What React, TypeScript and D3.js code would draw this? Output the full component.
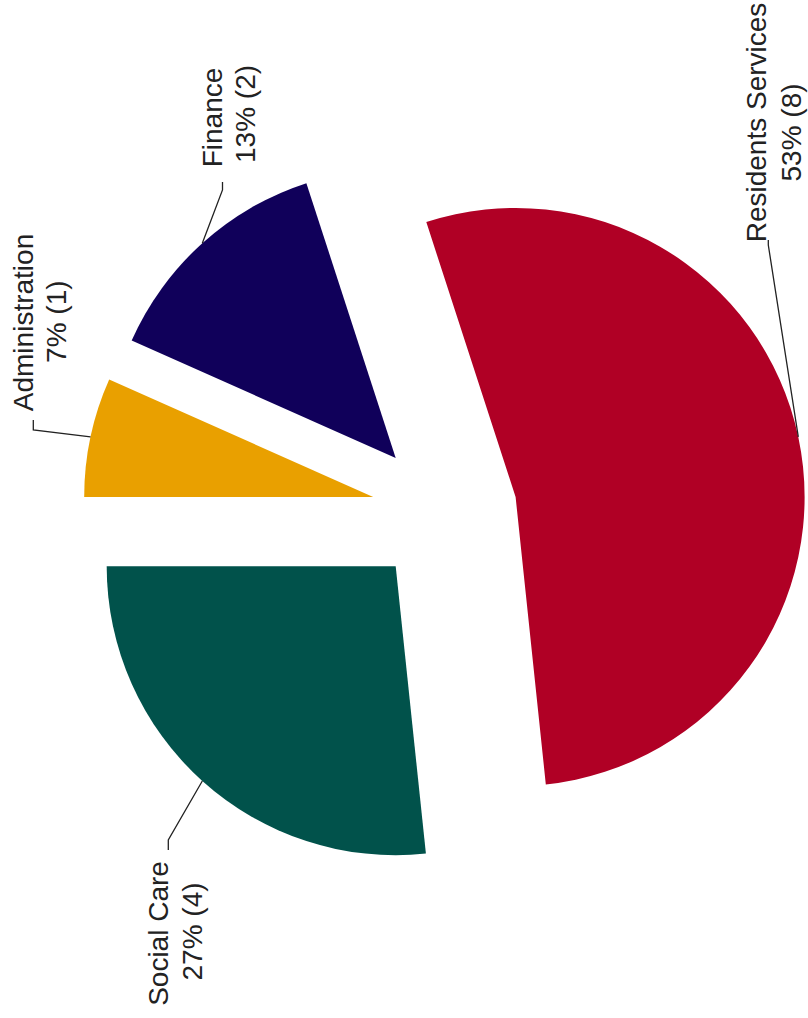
import React from "react";
import * as d3 from "d3";

// ---- data ----
const categories = ["Administration", "Finance", "Residents Services", "Social Care"];
const counts = [1, 2, 8, 4];
const sliceColors = ["#E9A000", "#10005A", "#B00025", "#01524B"];

// ---- layout ----
const W = 808;
const H = 1018;
const CX = 444.4;
const CY = 512.1;
const R = 289;
const EXPLODE = 72.8;
const FONT = 28;

// label layout (screen coords): elbow, end of leader, two text lines (baseline x, centre y)
const labelLayout = [
  { elbow: [33.3, 430], end: [33.3, 420], lines: [[33.3, 322.5], [65.7, 321.7]] },
  { elbow: [222.5, 190], end: [222.5, 182], lines: [[221.7, 117.5], [255, 114]] },
  { elbow: [768.3, 245], end: [768.3, 240], lines: [[765.7, 122.5], [801, 132.5]] },
  { elbow: [168.3, 840], end: [168.3, 850], lines: [[168.3, 933.5], [201.7, 931.5]] },
];

export default function App() {
  const total = d3.sum(counts);
  const pie = d3.pie<number>().sort(null).value((d) => d);
  const arcs = pie(counts);
  const arc = d3.arc<d3.PieArcDatum<number>>().innerRadius(0).outerRadius(R);

  return (
    <svg
      width={W}
      height={H}
      style={{ position: "absolute", left: 0, top: 0, background: "#fff" }}
      fontFamily="'Liberation Sans', Arial, sans-serif"
    >
      <g transform={`translate(${CX},${CY}) rotate(-90)`}>
        {arcs.map((a, i) => {
          const mid = (a.startAngle + a.endAngle) / 2;
          const dx = EXPLODE * Math.sin(mid);
          const dy = -EXPLODE * Math.cos(mid);
          return (
            <path
              key={categories[i]}
              d={arc(a) || ""}
              transform={`translate(${dx},${dy})`}
              fill={sliceColors[i]}
            />
          );
        })}
      </g>
      {arcs.map((a, i) => {
        const mid = (a.startAngle + a.endAngle) / 2;
        // screen direction for a d3 angle after rotate(-90)
        const ux = -Math.cos(mid);
        const uy = -Math.sin(mid);
        const sx = CX + ux * (EXPLODE + R);
        const sy = CY + uy * (EXPLODE + R);
        const L = labelLayout[i];
        const pct = Math.round((counts[i] / total) * 100);
        const texts = [categories[i], `${pct}% (${counts[i]})`];
        return (
          <g key={"lab" + i}>
            <polyline
              points={`${sx},${sy} ${L.elbow[0]},${L.elbow[1]} ${L.end[0]},${L.end[1]}`}
              fill="none"
              stroke="#222"
              strokeWidth={1.3}
            />
            {texts.map((t, j) => (
              <text
                key={j}
                transform={`translate(${L.lines[j][0]},${L.lines[j][1]}) rotate(-90)`}
                textAnchor="middle"
                fontSize={FONT}
                fill="#222"
              >
                {t}
              </text>
            ))}
          </g>
        );
      })}
    </svg>
  );
}
